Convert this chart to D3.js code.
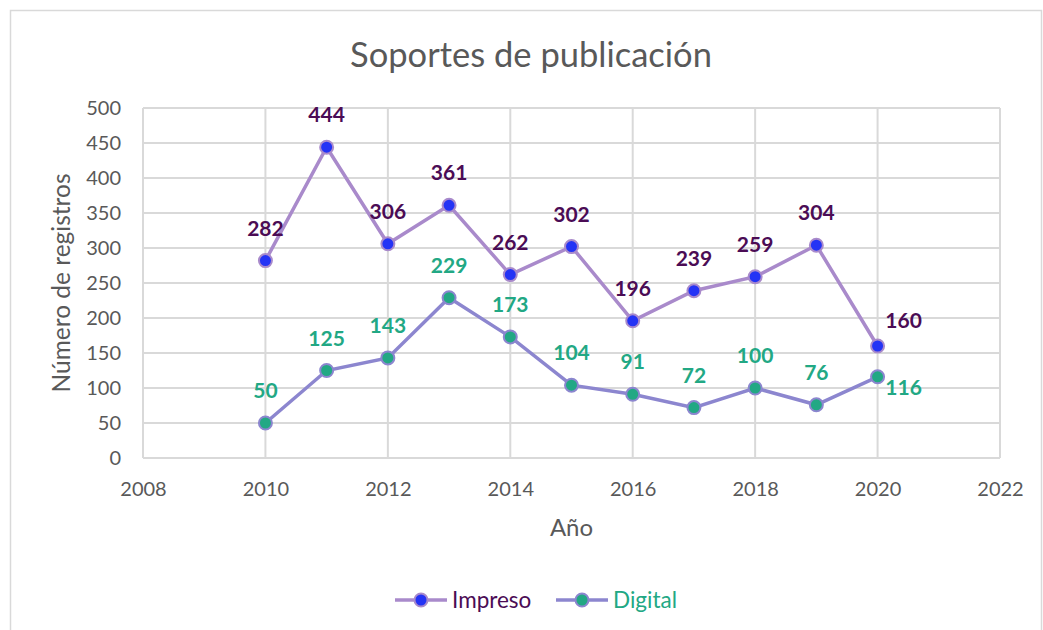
<!DOCTYPE html>
<html>
<head>
<meta charset="utf-8">
<script src="https://cdn.jsdelivr.net/npm/d3@7"></script>
<style>
  body { margin: 0; background: #fff; }
  svg { font-family: Lato, 'Open Sans', sans-serif; }
</style>
</head>
<body>
<div id="chart"></div>
<script>
'use strict';

// data
const years = [2010, 2011, 2012, 2013, 2014, 2015, 2016, 2017, 2018, 2019, 2020];
const impreso = [282, 444, 306, 361, 262, 302, 196, 239, 259, 304, 160];
const digital = [50, 125, 143, 229, 173, 104, 91, 72, 100, 76, 116];
const x_ticks = [2008, 2010, 2012, 2014, 2016, 2018, 2020, 2022];
const y_ticks = [0, 50, 100, 150, 200, 250, 300, 350, 400, 450, 500];

const width = 1043, height = 630;
const margin = { left: 143, right: 43, top: 108, bottom: 172 };
const grid_color = '#d9d9d9';
const text_color = '#595959';

const series = [
    { name: 'Impreso', values: impreso, line: '#a98acb', fill: '#2433f5', label: '#4b0c55' },
    { name: 'Digital', values: digital, line: '#8c86cf', fill: '#22a884', label: '#22a884' }
];

const svg = d3.select('#chart').append('svg')
    .attr('width', width)
    .attr('height', height);

// chart frame
svg.append('rect')
    .attr('x', 10.5).attr('y', 10.5)
    .attr('width', 1031).attr('height', 640)
    .attr('fill', '#fff')
    .attr('stroke', grid_color)
    .attr('stroke-width', 1.5);

const x = d3.scaleLinear().domain([2008, 2022]).range([margin.left, width - margin.right]);
const y = d3.scaleLinear().domain([0, 500]).range([height - margin.bottom, margin.top]);

// grid
const grid = svg.append('g');
grid.selectAll('line.h')
    .data(y_ticks)
    .enter()
    .append('line')
    .attr('x1', x(2008)).attr('x2', x(2022))
    .attr('y1', d => y(d)).attr('y2', d => y(d))
    .attr('stroke', grid_color)
    .attr('stroke-width', 2);
grid.selectAll('line.v')
    .data(x_ticks)
    .enter()
    .append('line')
    .attr('y1', y(0)).attr('y2', y(500))
    .attr('x1', d => x(d)).attr('x2', d => x(d))
    .attr('stroke', grid_color)
    .attr('stroke-width', 2);

// axes
const x_axis = svg.append('g')
    .attr('transform', `translate(0,${y(0)})`)
    .call(d3.axisBottom(x).tickValues(x_ticks).tickFormat(d3.format('d')).tickSize(0).tickPadding(24));
const y_axis = svg.append('g')
    .attr('transform', `translate(${x(2008)},0)`)
    .call(d3.axisLeft(y).tickValues(y_ticks).tickSize(0).tickPadding(22));
[x_axis, y_axis].forEach(a => {
    a.select('.domain').remove();
    a.selectAll('text')
        .attr('fill', text_color)
        .style('font-size', '20px')
        .style('font-family', "Lato, 'Open Sans', sans-serif");
});

// titles
svg.append('text')
    .attr('x', 531).attr('y', 67)
    .attr('text-anchor', 'middle')
    .attr('fill', text_color)
    .style('font-size', '34.5px')
    .text('Soportes de publicación');

svg.append('text')
    .attr('x', x(2015)).attr('y', 536)
    .attr('text-anchor', 'middle')
    .attr('fill', text_color)
    .style('font-size', '24px')
    .text('Año');

svg.append('text')
    .attr('transform', `translate(70,${y(250)}) rotate(-90)`)
    .attr('text-anchor', 'middle')
    .attr('fill', text_color)
    .style('font-size', '24.5px')
    .text('Número de registros');

// lines and markers
const line = d3.line().x((d, i) => x(years[i])).y(d => y(d));

series.forEach(s => {
    const g = svg.append('g');
    g.append('path')
        .datum(s.values)
        .attr('d', line)
        .attr('fill', 'none')
        .attr('stroke', s.line)
        .attr('stroke-width', 3.5);
    g.selectAll('circle')
        .data(s.values)
        .enter()
        .append('circle')
        .attr('cx', (d, i) => x(years[i]))
        .attr('cy', d => y(d))
        .attr('r', 6.5)
        .attr('fill', s.fill)
        .attr('stroke', s.line)
        .attr('stroke-width', 2);
});

// data labels (last points nudged to the right, as in the original)
series.forEach((s, si) => {
    svg.append('g').selectAll('text')
        .data(s.values)
        .enter()
        .append('text')
        .attr('x', (d, i) => x(years[i]) + (i === years.length - 1 ? 26 : 0))
        .attr('y', (d, i) => {
            if (i === years.length - 1) return y(d) + (si === 0 ? -18 : 18);
            return y(d) - 25;
        })
        .attr('text-anchor', 'middle')
        .attr('fill', s.label)
        .style('font-size', '21px')
        .style('font-weight', 'bold')
        .text(d => d);
});

// legend
const legend = svg.append('g').attr('transform', 'translate(0,600)');
const legend_x = [395, 556];
series.forEach((s, i) => {
    const lg = legend.append('g').attr('transform', `translate(${legend_x[i]},0)`);
    lg.append('line')
        .attr('x1', 0).attr('x2', 52)
        .attr('stroke', s.line)
        .attr('stroke-width', 3.5);
    lg.append('circle')
        .attr('cx', 26).attr('r', 6.5)
        .attr('fill', s.fill)
        .attr('stroke', s.line)
        .attr('stroke-width', 2);
    lg.append('text')
        .attr('x', 57).attr('y', 8)
        .attr('fill', s.label)
        .style('font-size', '22.5px')
        .text(s.name);
});
</script>
</body>
</html>
